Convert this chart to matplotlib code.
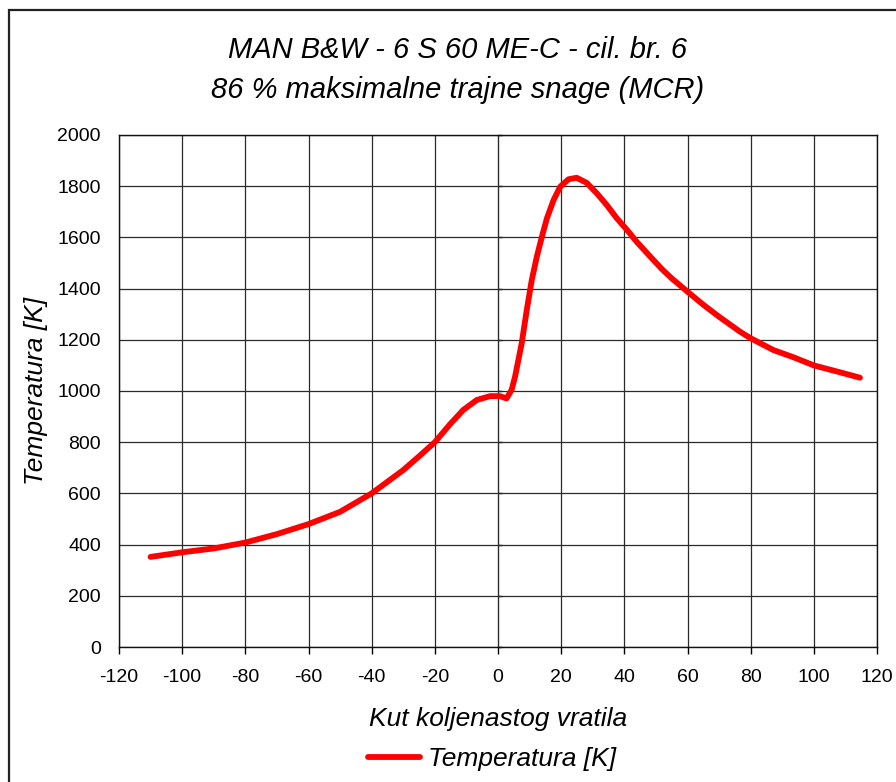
import matplotlib
matplotlib.use("Agg")
import matplotlib.pyplot as plt
from matplotlib.patches import Rectangle

# Podaci očitani s dijagrama
kut = [-110, -100, -90, -80, -70, -60, -50, -40, -30, -24.7, -20, -15.2, -11, -6.7, -2.5, 0.6,
       2.7, 4.3, 5.4, 7.5, 9.1, 10.7, 12.3, 13.9, 15.5, 17.6, 19.7, 22.3, 24.9,
       28.1, 31.3, 34.4, 37.6, 40.8, 43.9, 48.2, 52, 55, 60, 65, 70, 76.6, 80, 87.2, 93.5,
       100, 108.3, 114.6]
temperatura = [352, 370, 385, 408, 441, 480, 528, 600, 691, 748, 800, 870, 926, 965, 980, 980,
               971, 1004, 1056, 1186, 1316, 1434, 1525, 1603, 1675, 1746, 1798, 1827, 1833,
               1813, 1772, 1727, 1675, 1630, 1583, 1525, 1475, 1440, 1388, 1337, 1290, 1232, 1206, 1160, 1132,
               1100, 1073, 1052]

x_ticks = list(range(-120, 121, 20))
y_ticks = list(range(0, 2001, 200))

plt.rcParams['font.family'] = ['Liberation Sans', 'DejaVu Sans']
plt.rcParams['axes.unicode_minus'] = False

fig = plt.figure(figsize=(8.96, 7.82), dpi=100)
ax = fig.add_axes([119/896, 1-647/782, 758/896, 512/782])

# okvir oko cijelog dijagrama
fig.patches.append(Rectangle((9/896, -0.1), 1.2, 1.1 - 10/782, transform=fig.transFigure,
                             fill=False, edgecolor='#222222', linewidth=1.6))

ax.plot(kut, temperatura, color='#ff0000', linewidth=4.2, solid_capstyle='round',
        solid_joinstyle='round', label='Temperatura [K]', zorder=3)

ax.set_xlim(-120, 120)
ax.set_ylim(0, 2000)
ax.set_xticks(x_ticks)
ax.set_yticks(y_ticks)
ax.grid(True, color='#2a2a2a', linewidth=0.9)
ax.set_axisbelow(True)
for s in ax.spines.values():
    s.set_color('#111111')
    s.set_linewidth(1.0)

ax.tick_params(axis='x', direction='out', length=5, width=1, labelsize=14, pad=11)
ax.tick_params(axis='y', length=0, labelsize=14, pad=13)

# os y prolazi kroz 0
sec = ax.secondary_yaxis(0.5)
sec.set_yticks(y_ticks)
sec.tick_params(axis='y', direction='out', length=3, width=1, labelleft=False, labelright=False)
sec.spines['left'].set_color('#111111')
sec.spines['left'].set_linewidth(1.0)

ax.set_xlabel('Kut koljenastog vratila', fontsize=19, style='italic', labelpad=15)
ax.set_ylabel('Temperatura [K]', fontsize=19, style='italic', labelpad=7)

fig.text(0.511, 1-50/782, 'MAN B&W - 6 S 60 ME-C - cil. br. 6', fontsize=21, style='italic',
         ha='center', va='center')
fig.text(0.511, 1-90/782, '86 % maksimalne trajne snage (MCR)', fontsize=21, style='italic',
         ha='center', va='center')

leg = ax.legend(loc='center', bbox_to_anchor=(492/896, 1-759/782), bbox_transform=fig.transFigure,
                frameon=False, fontsize=19, handlelength=2.0, handletextpad=0.3)
for t in leg.get_texts():
    t.set_style('italic')

fig.savefig('out.png', dpi=100)
